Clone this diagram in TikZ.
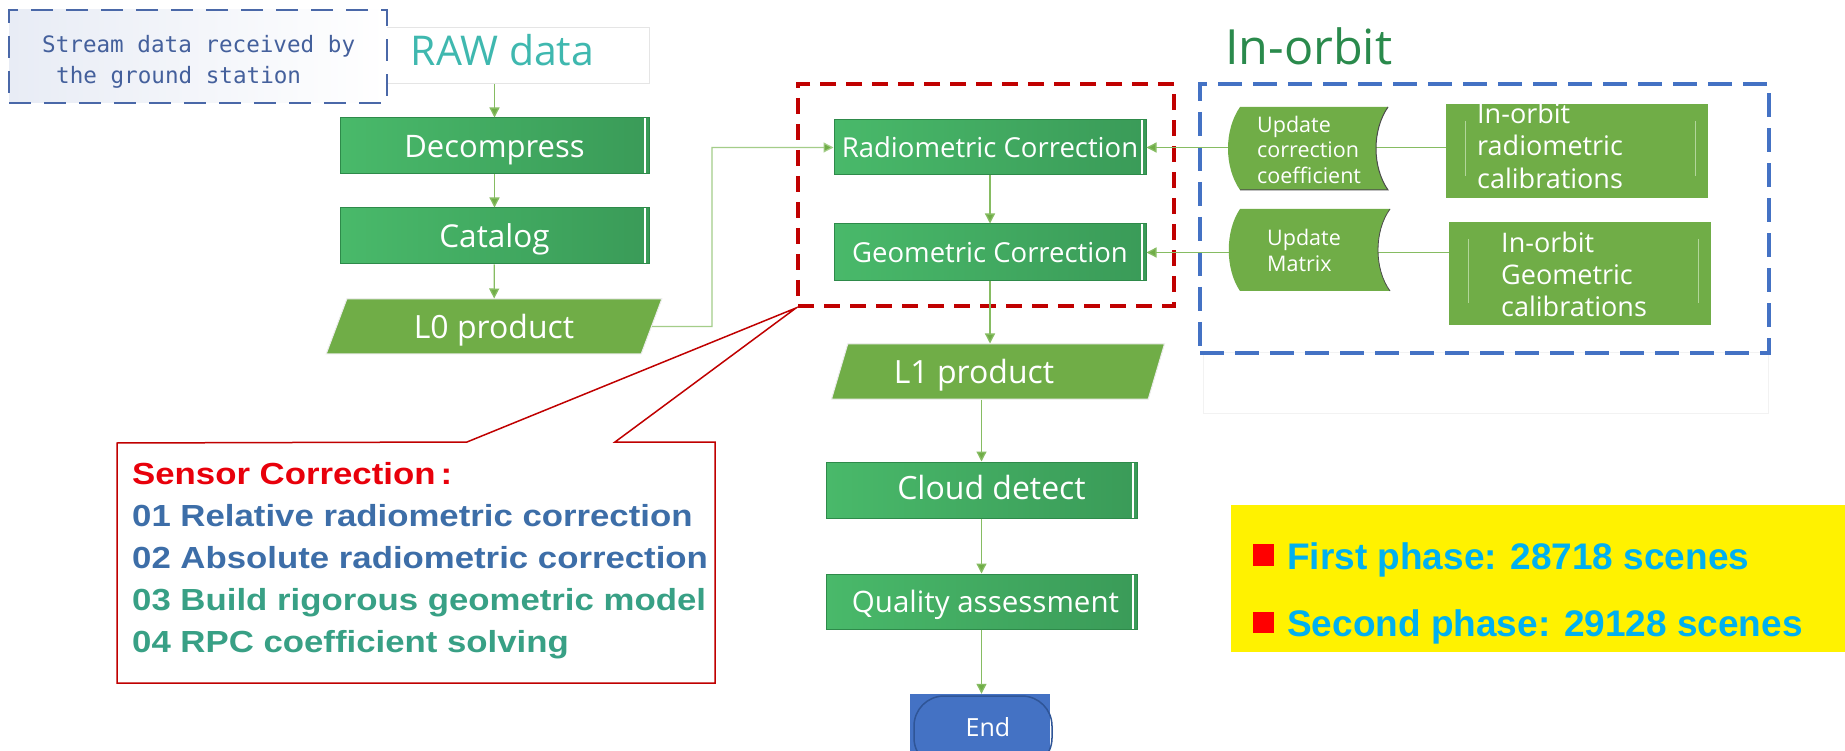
\documentclass[tikz,border=0pt]{standalone}
\usepackage{fontspec}
\setmainfont{Open Sans}
\newfontfamily\monofont{DejaVu Sans Mono}
\newfontfamily\calfont[FakeStretch=1.14]{Liberation Sans}
\newfontfamily\arialfont{Liberation Sans}
\usetikzlibrary{arrows.meta,shapes.geometric,calc}
\newcommand\fsz[2]{\fontsize{#1pt}{#2pt}\selectfont}
\definecolor{procL}{HTML}{49B96A}
\definecolor{procR}{HTML}{3A9B58}
\definecolor{procB}{HTML}{2E8A4A}
\definecolor{lgreen}{HTML}{70AD47}
\definecolor{conn}{HTML}{86BC62}
\definecolor{tealt}{HTML}{3FB8AF}
\definecolor{orbitg}{HTML}{2A8A4C}
\definecolor{streamt}{HTML}{44609C}
\definecolor{streamd}{HTML}{4A68A8}
\definecolor{streamf}{HTML}{E8ECF5}
\definecolor{redd}{HTML}{C00000}
\definecolor{blued}{HTML}{4472C4}
\definecolor{endline}{HTML}{2F5597}
\definecolor{titred}{HTML}{E8000B}
\definecolor{bluet}{HTML}{3D6EA8}
\definecolor{tealg}{HTML}{38A085}
\definecolor{cyant}{HTML}{00B0F0}
\definecolor{calline}{HTML}{B2D69A}
\definecolor{faint}{HTML}{F2F2F2}
\tikzset{
  pfont/.style={font=\fsz{#1}{#1}, text height={0.72*#1}, text depth=0pt},
  proc/.style={draw=procB, line width=1pt, left color=procL, right color=procR,
    text=white, inner sep=0pt,
    path picture={\draw[white, line width=1.5pt]
      ([xshift=-4pt]path picture bounding box.north east) --
      ([xshift=-4pt]path picture bounding box.south east);}},
  para/.style={shape=trapezium, trapezium left angle=64, trapezium right angle=116,
    trapezium stretches=true, fill=lgreen, draw=white!85!gray, line width=1pt,
    text=white, inner sep=0pt},
  calbox/.style={fill=lgreen, inner sep=0pt,
    path picture={\draw[calline, line width=1pt]
      ([xshift=19pt,yshift=-17pt]path picture bounding box.north west) --
      ([xshift=19pt,yshift=22pt]path picture bounding box.south west);
      \draw[calline, line width=1pt]
      ([xshift=-13pt,yshift=-17pt]path picture bounding box.north east) --
      ([xshift=-13pt,yshift=22pt]path picture bounding box.south east);}},
  caltext/.style={text=white, inner sep=0pt, align=left, anchor=north west},
  arrow/.style={draw=conn, line width=1.3pt, -{Triangle[length=10pt,width=10pt,fill=lgreen]}},
  lightarrow/.style={draw=conn!75!white, line width=1.2pt, -{Triangle[length=10pt,width=10pt,fill=lgreen]}},
}
\begin{document}
\begin{tikzpicture}[x=1pt,y=-1pt]
\useasboundingbox (0,0) rectangle (1845,751);
\fill[white] (0,0) rectangle (1845,751);

% faint rectangle below the in-orbit box
\draw[faint, line width=1pt] (1203,353) rectangle (1768,413);

% left column
\node[draw=black!10, line width=1pt, fill=white, minimum width=309pt, minimum height=56pt,
  inner sep=0pt, text=tealt, font=\fsz{41}{48}, text height=30pt, text depth=10pt] (raw) at (494.5,56) {\hspace*{16pt}RAW data};

% stream box (drawn over the RAW box)
\node[draw=streamd, line width=2.5pt, dash pattern=on 22pt off 13pt,
  left color=streamf, right color=white, minimum width=378pt, minimum height=93pt,
  inner sep=0pt] (stream) at (198,56.5) {};
\node[anchor=base west, inner sep=0pt, text=streamt, font=\monofont\fsz{22.6}{27}]
  (stream1) at (42,53) {Stream data received by};
\node[anchor=base west, inner sep=0pt, text=streamt, font=\monofont\fsz{22.6}{27}]
  (stream2) at (56,84) {the ground station};

\node[proc, minimum width=309pt, minimum height=56pt, pfont=31] (dec) at (494.5,146) {Decompress};
\node[proc, minimum width=309pt, minimum height=56pt, pfont=31.5] (cat) at (494.5,236) {Catalog};
\node[para, minimum width=336pt, minimum height=55pt, pfont=32] (L0) at (494,326.5) {L0 product};

\draw[arrow] (raw) -- (dec);
\draw[arrow] (dec) -- (cat);
\draw[arrow] (cat) -- (L0);

% red dashed box & contents
\node[draw=redd, line width=4pt, dash pattern=on 16pt off 10pt, minimum width=376pt,
  minimum height=222pt, inner sep=0pt] (redbox) at (986,195) {};
\node[proc, minimum width=312pt, minimum height=55pt, pfont=27.5] (rad) at (990,147.5) {Radiometric Correction};
\node[proc, minimum width=312pt, minimum height=57pt, pfont=27.5] (geo) at (990,252.5) {Geometric Correction};
\draw[arrow] (rad) -- (geo);
\draw[lightarrow] (L0.east) -- (712,326.5) |- (rad.west);

% center column
\node[para, minimum width=334pt, minimum height=55pt, pfont=32] (L1) at (998,371.5) {L1 product\hspace*{48pt}};
\node[proc, minimum width=311pt, minimum height=56pt, pfont=32, text height=19pt] (cloud) at (981.5,490) {\hspace*{20pt}Cloud detect};
\node[proc, minimum width=311pt, minimum height=55pt, pfont=29.5] (qual) at (981.5,601.5) {\hspace*{8pt}Quality assessment};
\node[fill=blued, minimum width=140pt, minimum height=62pt, inner sep=0pt] (endn) at (980,725) {};
\draw[endline, line width=1.5pt, rounded corners=30pt] (914,696) rectangle (1052,768);
\node[anchor=base, inner sep=0pt, text=white, font=\fsz{25}{30}] (endt) at (988,736) {End};

\draw[arrow] (geo.south) -- (geo.south |- L1.north);
\draw[arrow] (cloud.north |- L1.south) -- (cloud.north);
\draw[arrow] (cloud) -- (qual);
\draw[arrow] (qual.south) -- (qual.south |- endn.north);

% in-orbit block
\node[anchor=base west, inner sep=0pt, text=orbitg, font=\fsz{48.5}{56}] (orbit) at (1225,65) {In-orbit};
\node[draw=blued, line width=3.5pt, dash pattern=on 24pt off 11pt, minimum width=569pt,
  minimum height=269pt, inner sep=0pt] (bluebox) at (1484.5,218.5) {};
\node[calbox, minimum width=262pt, minimum height=94pt] (calR) at (1577,151) {};
\node[calbox, minimum width=262pt, minimum height=103pt] (calG) at (1580,273.5) {};
\node[caltext, font=\fsz{27}{32.5}] (calRt) at (1477,102.5) {In-orbit\\radiometric\\calibrations};
\node[caltext, font=\fsz{27}{32}] (calGt) at (1501,231.5) {In-orbit\\Geometric\\calibrations};

\draw[arrow] (calR.west |- rad.east) -- (rad.east);
\draw[arrow] (calG.west |- geo.east) -- (geo.east);

% update shapes (stored data)
\fill[lgreen] (1240,107) -- (1388,107) .. controls (1372,130) and (1372,167) .. (1388,190)
  -- (1240,190) .. controls (1224,167) and (1224,130) .. (1240,107) -- cycle;
\draw[black!70, line width=1pt] (1388,107) .. controls (1372,130) and (1372,167) .. (1388,190) -- (1240,190);
\fill[lgreen] (1240,209) -- (1390,209) .. controls (1374,231) and (1374,269) .. (1390,291)
  -- (1240,291) .. controls (1225,269) and (1225,231) .. (1240,209) -- cycle;
\draw[black!70, line width=0.8pt] (1390,209) .. controls (1374,231) and (1374,269) .. (1390,291);
\node[caltext, font=\fsz{21.5}{25.5}] (updRt) at (1257,115.7) {Update\\correction\\coefficient};
\node[caltext, font=\fsz{21.5}{26}] (updGt) at (1267,228.7) {Update\\Matrix};

% callout
\draw[redd, line width=1.5pt, fill=white] (117,443) -- (467,442) -- (redbox.south west)
  -- (615,442) -- (715,442) -- (715,683) -- (117,683) -- cycle;
\node[anchor=north west, inner sep=0pt, align=left, font=\calfont\bfseries\fsz{30.5}{42}] (callt) at (132,462)
  {\textcolor{titred}{Sensor Correction\,:}\\
   \textcolor{bluet}{01 Relative radiometric correction}\\
   \textcolor{bluet}{02 Absolute radiometric correction}\\
   \textcolor{tealg}{03 Build rigorous geometric model}\\
   \textcolor{tealg}{04 RPC coefficient solving}};

% yellow box
\node[fill=yellow, minimum width=614pt, minimum height=147pt, inner sep=0pt] (yel) at (1538,578.5) {};
\node[fill=red, minimum width=21pt, minimum height=22pt, inner sep=0pt] (b1) at (1263.5,555) {};
\node[fill=red, minimum width=21pt, minimum height=21pt, inner sep=0pt] (b2) at (1263.5,622.5) {};
\node[anchor=base west, inner sep=0pt, text=cyant, font=\arialfont\bfseries\fsz{37}{44}] (y1) at (1287,569) {First phase: 28718 scenes};
\node[anchor=base west, inner sep=0pt, text=cyant, font=\arialfont\bfseries\fsz{37}{44}] (y2) at (1287,636) {Second phase: 29128 scenes};
\end{tikzpicture}
\end{document}
